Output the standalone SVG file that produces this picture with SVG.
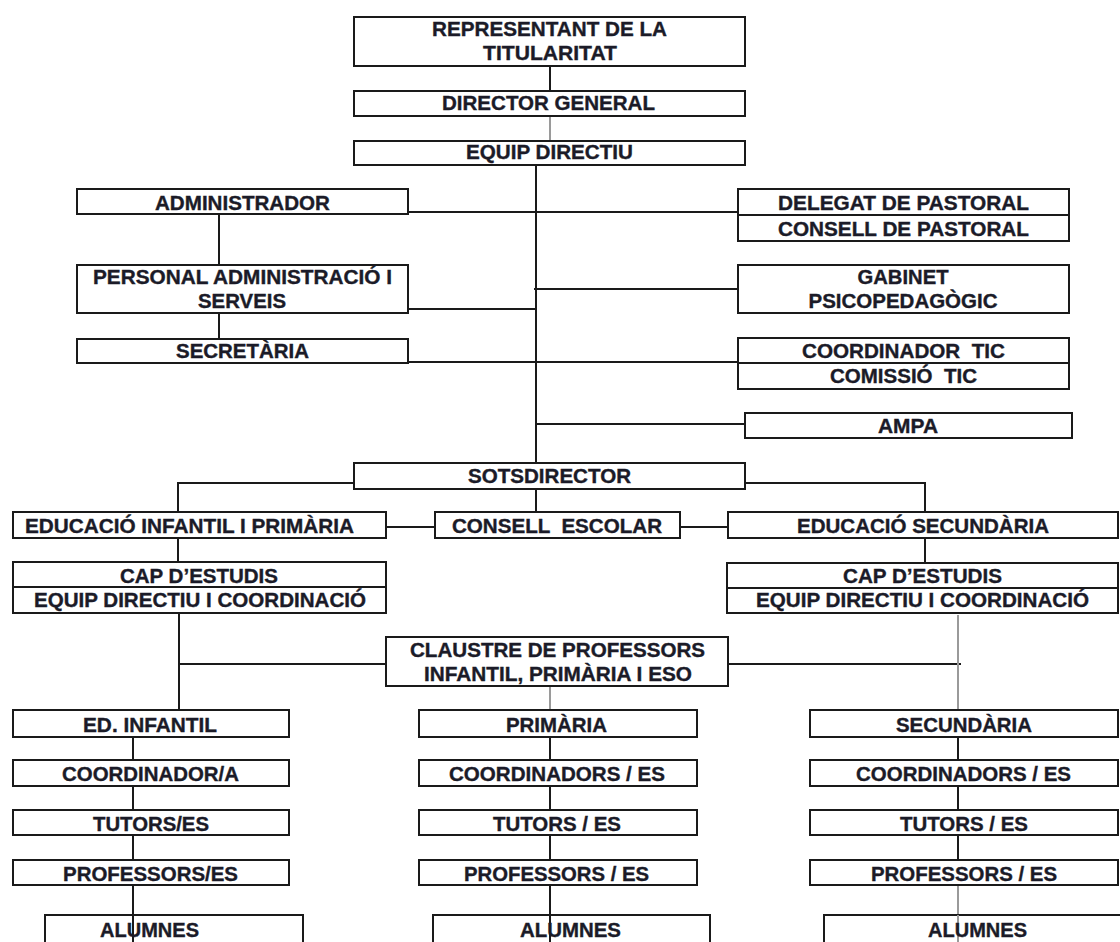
<svg xmlns="http://www.w3.org/2000/svg" width="1120" height="942" viewBox="0 0 1120 942">
<style>
.b{fill:#fff;stroke:#1a1a1a;stroke-width:2}
.d{stroke:#1a1a1a;stroke-width:2;fill:none}
.c{stroke:#1a1a1a;stroke-width:2;fill:none}
.g{stroke:#9a9a9a;stroke-width:2;fill:none}
text{font-family:"Liberation Sans",Arial,sans-serif;font-weight:bold;font-size:19.5px;fill:#1b1b28;stroke:#1b1b28;stroke-width:0.35;text-anchor:middle;white-space:pre}
</style>
<rect width="1120" height="942" fill="#fff"/>
<g id="connectors">
<path class="c" d="M550 66V91"/>
<path class="g" d="M550 116V141"/>
<path class="c" d="M536 165V463"/>
<path class="c" d="M408 212H738"/>
<path class="c" d="M534 289H738"/>
<path class="c" d="M406 309H536"/>
<path class="c" d="M408 362H738"/>
<path class="c" d="M536 424H745"/>
<path class="c" d="M219 214V265M219 313V339"/>
<path class="c" d="M354 483H178V512M738 483H925V512M536 489V512"/>
<path class="c" d="M386 527H435M680 527H728"/>
<path class="c" d="M178 538V562M925 538V563"/>
<path class="c" d="M179 613V710M179 664H386"/>
<path class="c" d="M722 664H961"/>
<path class="g" d="M958 615V710"/>
<path class="g" d="M550 686V710"/>
<path class="c" d="M133 737V760M133 786V810M133 835V860M133 885V942"/>
<path class="c" d="M550 737V760M550 786V810M550 835V860M550 885V942"/>
<path class="c" d="M958 737V760M958 786V810M958 835V860"/>
<path class="g" d="M958 886V942"/>
</g>
<g id="representant"><rect class="b" x="354" y="17" width="391" height="49"/><text x="549.5" y="36" textLength="235" lengthAdjust="spacingAndGlyphs">REPRESENTANT DE LA</text><text x="550" y="60" textLength="134" lengthAdjust="spacingAndGlyphs">TITULARITAT</text></g>
<g id="director"><rect class="b" x="354" y="91" width="391" height="25"/><text x="548.5" y="110" textLength="213" lengthAdjust="spacingAndGlyphs">DIRECTOR GENERAL</text></g>
<g id="equip"><rect class="b" x="354" y="141" width="391" height="24"/><text x="549.5" y="159" textLength="167" lengthAdjust="spacingAndGlyphs">EQUIP DIRECTIU</text></g>
<g id="administrador"><rect class="b" x="77" y="189" width="331" height="25"/><text x="242.5" y="210" textLength="175" lengthAdjust="spacingAndGlyphs">ADMINISTRADOR</text></g>
<g id="personal"><rect class="b" x="77" y="265" width="331" height="48"/><text x="242.5" y="284" textLength="299" lengthAdjust="spacingAndGlyphs">PERSONAL ADMINISTRACIÓ I</text><text x="242" y="308" textLength="88" lengthAdjust="spacingAndGlyphs">SERVEIS</text></g>
<g id="secretaria"><rect class="b" x="77" y="339" width="331" height="24"/><text x="242.5" y="358" textLength="133" lengthAdjust="spacingAndGlyphs">SECRETÀRIA</text></g>
<g id="pastoral"><rect class="b" x="738" y="189" width="331" height="52"/><path class="d" d="M738 215H1069"/><text x="903.5" y="210" textLength="251" lengthAdjust="spacingAndGlyphs">DELEGAT DE PASTORAL</text><text x="903.5" y="236" textLength="251" lengthAdjust="spacingAndGlyphs">CONSELL DE PASTORAL</text></g>
<g id="gabinet"><rect class="b" x="738" y="265" width="331" height="48"/><text x="903" y="284" textLength="91" lengthAdjust="spacingAndGlyphs">GABINET</text><text x="903" y="308" textLength="189" lengthAdjust="spacingAndGlyphs">PSICOPEDAGÒGIC</text></g>
<g id="tic"><rect class="b" x="738" y="338" width="331" height="51"/><path class="d" d="M738 363H1069"/><text x="903.5" y="358" textLength="203" lengthAdjust="spacingAndGlyphs" xml:space="preserve">COORDINADOR  TIC</text><text x="903.5" y="383" textLength="147" lengthAdjust="spacingAndGlyphs" xml:space="preserve">COMISSIÓ  TIC</text></g>
<g id="ampa"><rect class="b" x="745" y="413" width="327" height="25"/><text x="908" y="433" textLength="60" lengthAdjust="spacingAndGlyphs">AMPA</text></g>
<g id="sotsdirector"><rect class="b" x="354" y="463" width="391" height="26"/><text x="549.5" y="483" textLength="163" lengthAdjust="spacingAndGlyphs">SOTSDIRECTOR</text></g>
<g id="eip"><rect class="b" x="13" y="512" width="373" height="26"/><text x="189.5" y="533" textLength="329" lengthAdjust="spacingAndGlyphs">EDUCACIÓ INFANTIL I PRIMÀRIA</text></g>
<g id="consell"><rect class="b" x="435" y="512" width="245" height="26"/><text x="557" y="533" textLength="210" lengthAdjust="spacingAndGlyphs" xml:space="preserve">CONSELL  ESCOLAR</text></g>
<g id="es"><rect class="b" x="728" y="512" width="390" height="26"/><text x="923" y="533" textLength="252" lengthAdjust="spacingAndGlyphs">EDUCACIÓ SECUNDÀRIA</text></g>
<g id="cap-left"><rect class="b" x="13" y="562" width="373" height="51"/><path class="d" d="M13 587H386"/><text x="199" y="583" textLength="158" lengthAdjust="spacingAndGlyphs">CAP D’ESTUDIS</text><text x="200" y="607" textLength="332" lengthAdjust="spacingAndGlyphs">EQUIP DIRECTIU I COORDINACIÓ</text></g>
<g id="cap-right"><rect class="b" x="727" y="563" width="391" height="50"/><path class="d" d="M727 588H1118"/><text x="922.5" y="583" textLength="159" lengthAdjust="spacingAndGlyphs">CAP D’ESTUDIS</text><text x="922.5" y="607" textLength="333" lengthAdjust="spacingAndGlyphs">EQUIP DIRECTIU I COORDINACIÓ</text></g>
<g id="claustre"><rect class="b" x="386" y="637" width="342" height="49"/><text x="557.5" y="657" textLength="295" lengthAdjust="spacingAndGlyphs">CLAUSTRE DE PROFESSORS</text><text x="558" y="681" textLength="268" lengthAdjust="spacingAndGlyphs">INFANTIL, PRIMÀRIA I ESO</text></g>
<g id="infantil"><rect class="b" x="13" y="710" width="276" height="27"/><text x="150" y="732" textLength="134" lengthAdjust="spacingAndGlyphs">ED. INFANTIL</text></g>
<g id="coord-inf"><rect class="b" x="13" y="760" width="276" height="26"/><text x="150.5" y="781" textLength="177" lengthAdjust="spacingAndGlyphs">COORDINADOR/A</text></g>
<g id="tutors-inf"><rect class="b" x="13" y="810" width="276" height="25"/><text x="151" y="831" textLength="116" lengthAdjust="spacingAndGlyphs">TUTORS/ES</text></g>
<g id="prof-inf"><rect class="b" x="13" y="860" width="276" height="25"/><text x="150.5" y="881" textLength="175" lengthAdjust="spacingAndGlyphs">PROFESSORS/ES</text></g>
<g id="alumnes-inf"><rect class="b" x="45" y="915" width="258" height="40"/><path class="c" d="M133 915V942"/><text x="149.5" y="937" textLength="99" lengthAdjust="spacingAndGlyphs">ALUMNES</text></g>
<g id="primaria"><rect class="b" x="419" y="710" width="278" height="27"/><text x="556.5" y="732" textLength="101" lengthAdjust="spacingAndGlyphs">PRIMÀRIA</text></g>
<g id="coord-pri"><rect class="b" x="419" y="760" width="278" height="26"/><text x="557" y="781" textLength="216" lengthAdjust="spacingAndGlyphs">COORDINADORS / ES</text></g>
<g id="tutors-pri"><rect class="b" x="419" y="810" width="278" height="25"/><text x="557" y="831" textLength="128" lengthAdjust="spacingAndGlyphs">TUTORS / ES</text></g>
<g id="prof-pri"><rect class="b" x="419" y="860" width="278" height="25"/><text x="556.5" y="881" textLength="185" lengthAdjust="spacingAndGlyphs">PROFESSORS / ES</text></g>
<g id="alumnes-pri"><rect class="b" x="433" y="915" width="277" height="40"/><path class="c" d="M550 915V942"/><text x="570.5" y="937" textLength="101" lengthAdjust="spacingAndGlyphs">ALUMNES</text></g>
<g id="secundaria"><rect class="b" x="810" y="710" width="308" height="27"/><text x="964" y="732" textLength="136" lengthAdjust="spacingAndGlyphs">SECUNDÀRIA</text></g>
<g id="coord-sec"><rect class="b" x="810" y="760" width="308" height="26"/><text x="963.5" y="781" textLength="215" lengthAdjust="spacingAndGlyphs">COORDINADORS / ES</text></g>
<g id="tutors-sec"><rect class="b" x="810" y="810" width="308" height="25"/><text x="964" y="831" textLength="128" lengthAdjust="spacingAndGlyphs">TUTORS / ES</text></g>
<g id="prof-sec"><rect class="b" x="810" y="860" width="308" height="25"/><text x="964" y="881" textLength="186" lengthAdjust="spacingAndGlyphs">PROFESSORS / ES</text></g>
<g id="alumnes-sec"><rect class="b" x="824" y="915" width="320" height="40"/><path class="g" d="M958 915V942"/><text x="977.5" y="937" textLength="99" lengthAdjust="spacingAndGlyphs">ALUMNES</text></g>
</svg>
